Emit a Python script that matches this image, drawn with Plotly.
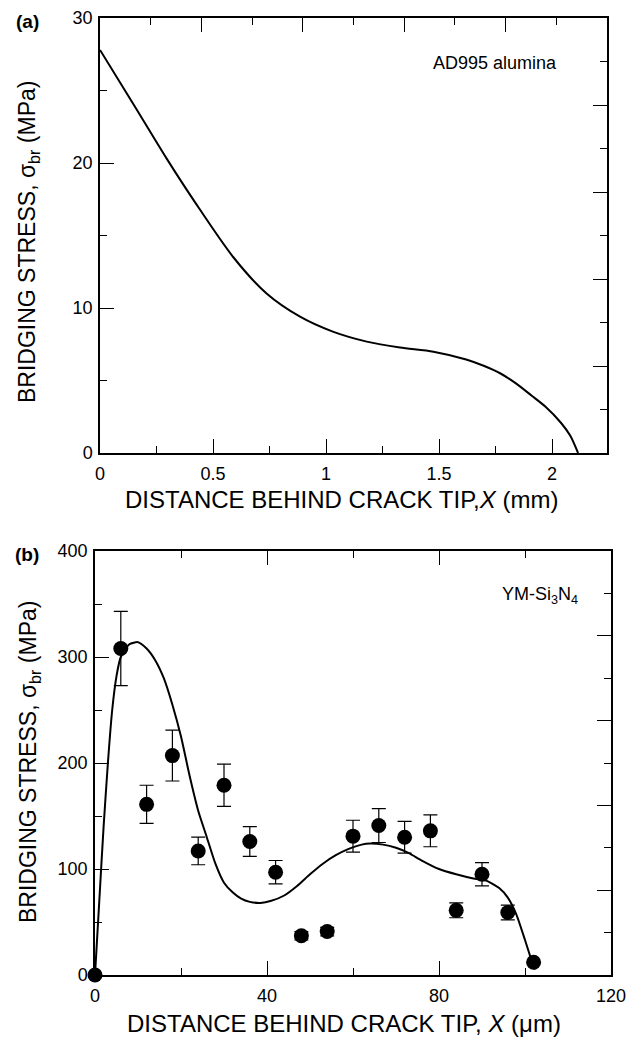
import plotly.graph_objects as go

# ---------------- data ----------------
# Panel (a): AD995 alumina bridging stress curve
xa_curve = [0, 0.15, 0.295, 0.42, 0.59, 0.737, 0.885, 1.03, 1.18, 1.327, 1.475, 1.62, 1.70, 1.77, 1.84, 1.91, 1.97, 2.04, 2.08, 2.115]
ya_curve = [27.8, 24.0, 20.3, 17.3, 13.5, 11.0, 9.4, 8.37, 7.68, 7.27, 6.99, 6.45, 6.0, 5.5, 4.8, 3.95, 3.2, 2.07, 1.2, 0.0]

# Panel (b): YM-Si3N4 measured points and fitted curve
xb_pts = [0, 6, 12, 18, 24, 30, 36, 42, 48, 54, 60, 66, 72, 78, 84, 90, 96, 102]
yb_pts = [0, 308, 161, 207, 117, 179, 126, 97, 37, 41, 131, 141, 130, 136, 61, 95, 59, 12]
eb_pts = [0, 35, 18, 24, 13, 20, 14, 11, 4, 4, 15, 16, 15, 15, 7, 11, 7, 0]

xb_curve = [0, 1, 2, 3, 4, 5, 6, 8, 10, 12, 14, 16, 18, 20, 22, 24, 26, 28, 30, 32, 34, 36,
            38.5, 41, 44, 47, 50, 53, 56, 59, 62, 64, 67, 70, 73, 76, 80, 84, 88, 91, 94,
            96, 98, 100, 101.5, 102.3]
yb_curve = [0, 70, 140, 200, 250, 282, 300, 312, 314, 308, 297, 280, 255, 225, 188, 155, 130,
            105, 87, 78, 72, 69, 68, 70, 75, 84, 95, 105, 113, 119, 123, 124, 123, 120, 115,
            108, 100, 95, 91, 89, 82, 73, 57, 33, 14, 5]

xa_range = [0, 2.243]
ya_range = [0, 30]
xb_range = [0, 120]
yb_range = [0, 400]
top_a_range = [0, 10]
right_range = [0, 10]
top_b_range = [0, 6]

x_title_a = "DISTANCE BEHIND CRACK TIP,<i>X</i> (mm)"
x_title_b = "DISTANCE BEHIND CRACK TIP, <i>X</i> (μm)"
y_title = "BRIDGING STRESS, σ<sub>br</sub> (MPa)"

FONT = "Liberation Sans, Arial, Helvetica, sans-serif"
W, H = 643, 1037

xa_dom = [100 / W, 607 / W]
ya_dom = [1 - 453 / H, 1 - 18 / H]
xb_dom = [95 / W, 611 / W]
yb_dom = [1 - 975 / H, 1 - 551 / H]

fig = go.Figure()

fig.add_trace(go.Scatter(x=xa_curve, y=ya_curve, mode="lines",
                         line=dict(color="black", width=2, shape="spline", smoothing=0.8),
                         xaxis="x", yaxis="y", showlegend=False, cliponaxis=False))

fig.add_trace(go.Scatter(x=xb_curve, y=yb_curve, mode="lines",
                         line=dict(color="black", width=2, shape="spline", smoothing=0.6),
                         xaxis="x2", yaxis="y2", showlegend=False, cliponaxis=False))

fig.add_trace(go.Scatter(x=xb_pts, y=yb_pts, mode="markers",
                         marker=dict(color="black", size=15, line=dict(width=0)),
                         error_y=dict(type="data", array=eb_pts, visible=True, color="black",
                                      thickness=1.2, width=7),
                         xaxis="x2", yaxis="y2", showlegend=False, cliponaxis=False))

# invisible helper traces so the secondary (top / right) tick axes get their own subplots
for xa, ya, xr, yr in [("x3", "y", top_a_range, ya_range), ("x", "y3", xa_range, right_range),
                       ("x4", "y2", top_b_range, yb_range), ("x2", "y4", xb_range, right_range)]:
    fig.add_trace(go.Scatter(x=xr, y=yr, mode="markers", marker=dict(opacity=0, size=1),
                             xaxis=xa, yaxis=ya, showlegend=False, hoverinfo="skip"))

tick_font = dict(family=FONT, size=18, color="black")

minor_style = dict(ticklen=7, tickcolor="black", tickwidth=1.3, ticks="inside")
common = dict(showline=True, linecolor="black", linewidth=1.5, ticks="inside", tickcolor="black",
              tickwidth=1.3, ticklen=14, showgrid=False, zeroline=False,
              tickfont=tick_font)

fig.update_layout(
    width=W, height=H,
    margin=dict(l=0, r=0, t=0, b=0, autoexpand=False),
    paper_bgcolor="white", plot_bgcolor="white",
    font=dict(family=FONT, color="black"),
    xaxis=dict(domain=xa_dom, anchor="y", range=xa_range, dtick=0.5, tick0=0,
               minor=dict(dtick=0.25, **minor_style), ticklabelstandoff=4, **common),
    yaxis=dict(domain=ya_dom, anchor="x", range=ya_range, dtick=10, tick0=0,
               minor=dict(dtick=5, **minor_style), ticklabelstandoff=2, **common),
    xaxis3=dict(domain=xa_dom, anchor="y", overlaying="x", side="top", range=top_a_range, dtick=2, tick0=0,
                minor=dict(dtick=1, **minor_style), showticklabels=False, **common),
    yaxis3=dict(domain=ya_dom, anchor="x", overlaying="y", side="right", range=right_range, dtick=2, tick0=0,
                minor=dict(dtick=1, **minor_style), showticklabels=False, **common),
    xaxis2=dict(domain=xb_dom, anchor="y2", range=xb_range, dtick=40, tick0=0, layer="below traces",
                minor=dict(dtick=20, **minor_style), ticklabelstandoff=4, **common),
    yaxis2=dict(domain=yb_dom, anchor="x2", range=yb_range, dtick=100, tick0=0, layer="below traces",
                minor=dict(dtick=50, **minor_style), ticklabelstandoff=2, **common),
    xaxis4=dict(domain=xb_dom, anchor="y2", overlaying="x2", side="top", range=top_b_range, dtick=2, tick0=0,
                minor=dict(dtick=1, **minor_style), showticklabels=False, **common),
    yaxis4=dict(domain=yb_dom, anchor="x2", overlaying="y2", side="right", range=right_range, dtick=2, tick0=0,
                minor=dict(dtick=1, **minor_style), showticklabels=False, **common),
)

ann_font = dict(family=FONT, size=18, color="black")
xt_font = dict(family=FONT, size=24, color="black")
yt_font = dict(family=FONT, size=23, color="black")
annotations = [
    dict(text="<b>(a)</b>", xref="paper", yref="paper", x=27 / W, y=1 - 22 / H, showarrow=False,
         xanchor="center", yanchor="middle", font=dict(family=FONT, size=19, color="black")),
    dict(text="<b>(b)</b>", xref="paper", yref="paper", x=27 / W, y=1 - 554 / H, showarrow=False,
         xanchor="center", yanchor="middle", font=dict(family=FONT, size=19, color="black")),
    dict(text="AD995 alumina", xref="x", yref="y", x=1.748, y=26.9, showarrow=False,
         xanchor="center", yanchor="middle", font=ann_font),
    dict(text="YM-Si<sub>3</sub>N<sub>4</sub>", xref="x2", yref="y2", x=103.5, y=358, showarrow=False,
         xanchor="center", yanchor="middle", font=ann_font),
    # axis titles
    dict(text=x_title_a, xref="paper", yref="paper", x=341 / W, y=1 - 500 / H, showarrow=False,
         xanchor="center", yanchor="middle", font=xt_font),
    dict(text=x_title_b, xref="paper", yref="paper", x=344 / W, y=1 - 1023 / H, showarrow=False,
         xanchor="center", yanchor="middle", font=xt_font),
    dict(text=y_title, xref="paper", yref="paper", x=29 / W, y=1 - 242 / H, showarrow=False,
         textangle=-90, xanchor="center", yanchor="middle", font=yt_font),
    dict(text=y_title, xref="paper", yref="paper", x=29 / W, y=1 - 762 / H, showarrow=False,
         textangle=-90, xanchor="center", yanchor="middle", font=yt_font),
]
fig.update_layout(annotations=annotations)

fig.write_html("out.html", config={"displayModeBar": False},
               post_script="document.body.style.margin='0';")
